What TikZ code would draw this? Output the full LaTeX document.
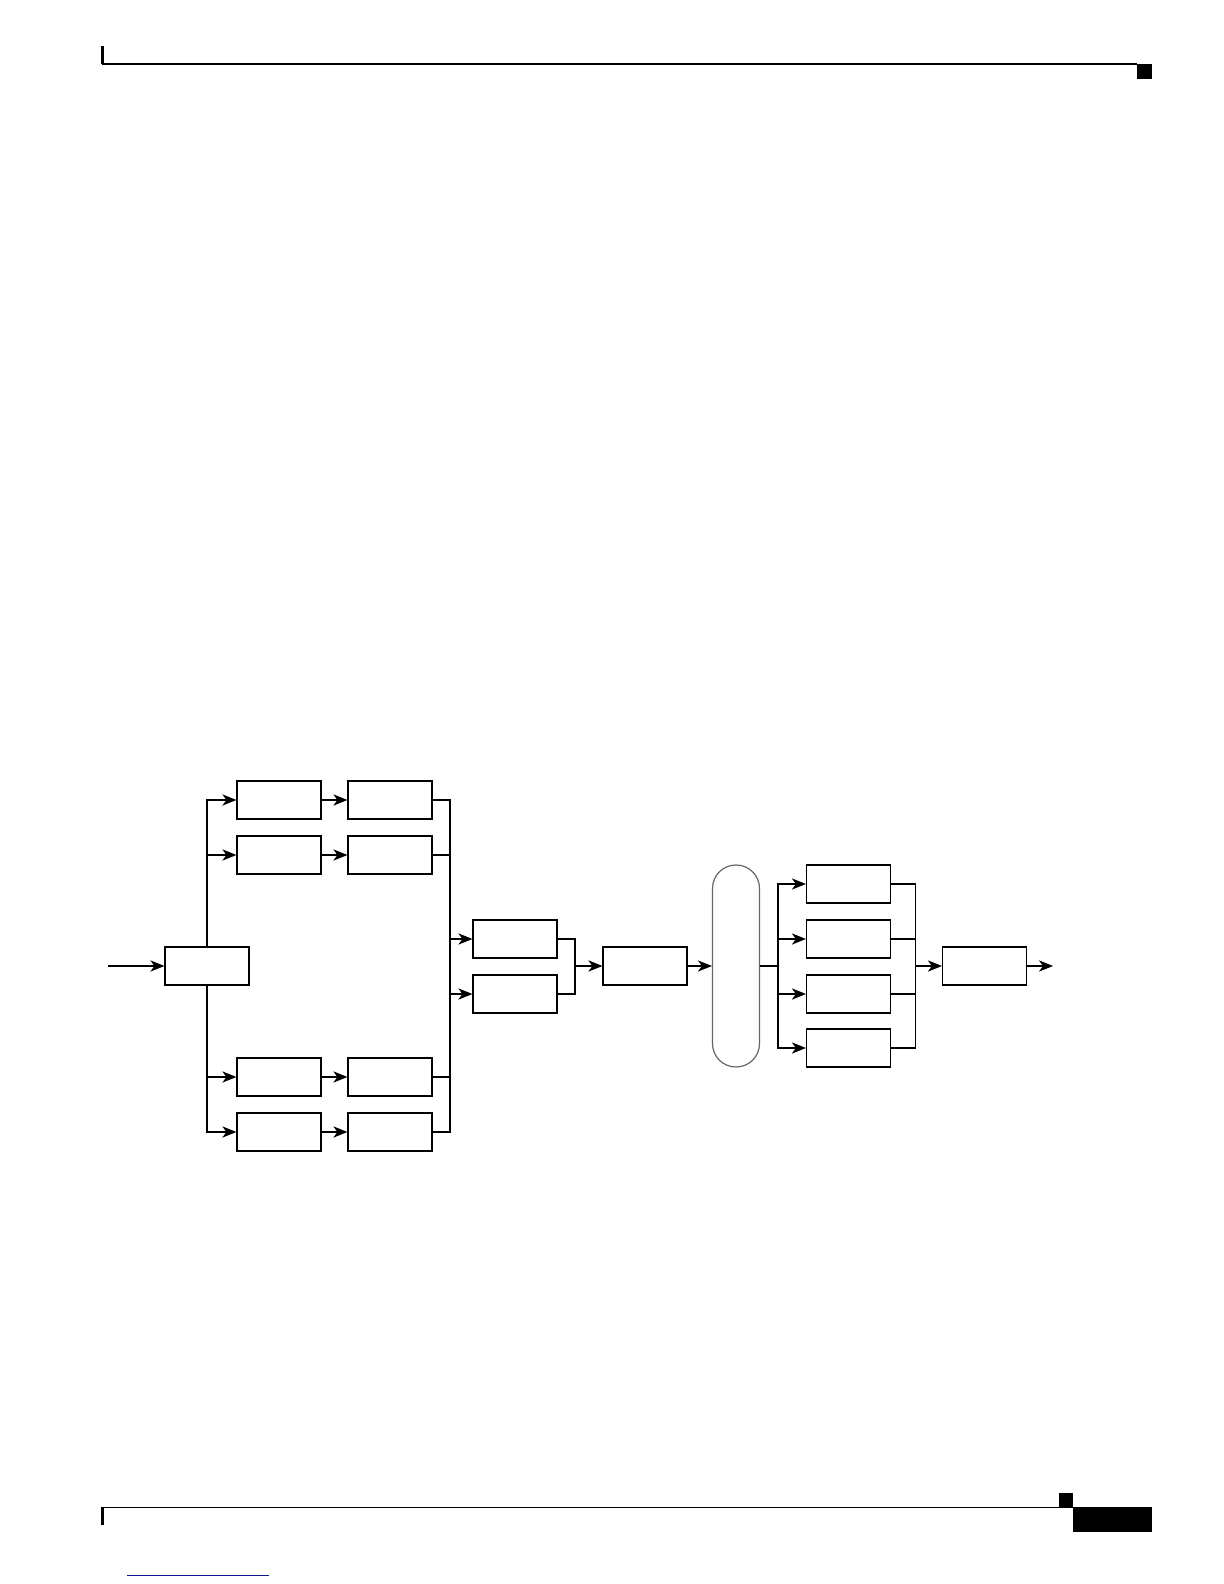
\documentclass[tikz,border=0pt]{standalone}
\usepackage{xcolor}
\usepackage{tikz}
\usetikzlibrary{arrows.meta, calc}

\definecolor{linkblue}{RGB}{20,24,140}

\begin{document}
\begin{tikzpicture}[x=0.5pt, y=-0.5pt,
    blk/.style={draw, line width=0.6pt, minimum width=42pt, minimum height=19pt, inner sep=0pt},
    pill/.style={draw=black!60, line width=0.6pt, minimum width=23.5pt, minimum height=101pt, inner sep=0pt, rounded corners=11.7pt},
    wire/.style={line width=0.6pt},
    feed/.style={wire, -{Stealth[length=7pt, width=5.6pt, inset=2pt]}}]
    \useasboundingbox (0,0) rectangle (1224,1584);

    % Page header and footer
    \draw[line width=1.15pt] (102.5,46.5) -- (102.5,64.5);
    \draw[line width=0.6pt] (102,64) -- (1137,64);
    \fill (1137,64) rectangle (1152,79);
    \draw[line width=1.15pt] (102.5,1507) -- (102.5,1524.5);
    \draw[line width=0.6pt] (102,1507.3) -- (1073,1507.3);
    \fill (1059,1492.7) rectangle (1073,1507.3);
    \fill (1073,1507) rectangle (1152,1532);
    \draw[linkblue, line width=0.6pt] (127,1575.3) -- (269,1575.3);

    % Entry block and its four branches
    \coordinate (in) at (108,966);
    \node[blk] (a) at (207,966) {};
    \draw[feed] (in) -- (a);
    \node[blk] (b11) at (279,800) {};  \node[blk] (b12) at (390,800) {};
    \node[blk] (b21) at (279,855) {};  \node[blk] (b22) at (390,855) {};
    \node[blk] (b31) at (279,1077) {}; \node[blk] (b32) at (390,1077) {};
    \node[blk] (b41) at (279,1132) {}; \node[blk] (b42) at (390,1132) {};
    \foreach \r in {1,2} {
        \draw[feed] (a.north) |- (b\r1.west);
        \draw[feed] (b\r1) -- (b\r2);
    }
    \foreach \r in {3,4} {
        \draw[feed] (a.south) |- (b\r1.west);
        \draw[feed] (b\r1) -- (b\r2);
    }

    % Collect into two blocks, then one
    \coordinate (busB) at (450,966);
    \foreach \r in {1,2,3,4} \draw[wire] (b\r2.east) -| (busB);
    \node[blk] (c1) at (515,939) {};
    \node[blk] (c2) at (515,994) {};
    \draw[feed] (busB) |- (c1.west);
    \draw[feed] (busB) |- (c2.west);
    \coordinate (busC) at (575,966);
    \draw[wire] (c1.east) -| (busC);
    \draw[wire] (c2.east) -| (busC);
    \node[blk] (d) at (645,966) {};
    \draw[feed] (busC) -- (d);

    % Rounded stage and four outputs
    \node[pill] (p) at (736,966) {};
    \draw[feed] (d) -- (p);
    \coordinate (busP) at (778,966);
    \draw[wire] (p) -- (busP);
    \coordinate (busE) at (915.5,966);
    \foreach \r/\y in {1/884, 2/939, 3/994, 4/1048} {
        \node[blk] (e\r) at (848.5,\y) {};
        \draw[feed] (busP) |- (e\r.west);
        \draw[wire] (e\r.east) -| (busE);
    }
    \node[blk] (f) at (984.5,966) {};
    \draw[feed] (busE) -- (f);
    \coordinate (out) at (1053,966);
    \draw[feed] (f) -- (out);
\end{tikzpicture}
\end{document}
